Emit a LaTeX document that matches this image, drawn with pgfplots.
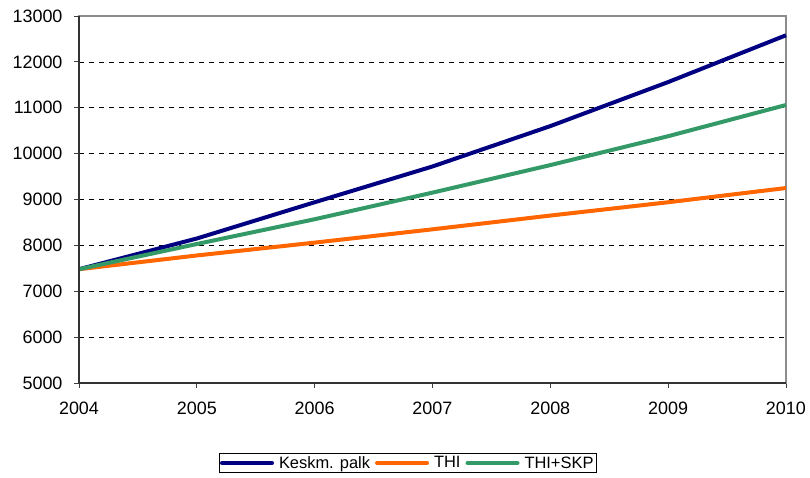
\documentclass[border=0pt]{standalone}
\usepackage{pgfplots}
\pgfplotsset{compat=1.18}
\usepackage{fontspec}
\setmainfont{Liberation Sans}

\definecolor{palk}{RGB}{0,0,128}
\definecolor{thi}{RGB}{255,102,0}
\definecolor{skp}{RGB}{51,153,102}

\begin{document}
\begin{tikzpicture}
\path[use as bounding box] (-79bp,-95bp) rectangle (731bp,383bp);
\begin{axis}[
  scale only axis,
  width=707bp, height=367bp,
  at={(0,0)}, anchor=south west,
  xmin=2004, xmax=2010, ymin=5000, ymax=13000,
  xtick={2004,...,2010}, ytick={5000,6000,...,13000},
  scaled ticks=false,
  xticklabel style={/pgf/number format/1000 sep={}},
  yticklabel style={/pgf/number format/1000 sep={}},
  /pgf/number format/assume math mode=true,
  tick label style={font=\fontsize{18}{21}\selectfont, text=black},
  xticklabel style={yshift=-10bp},
  yticklabel style={xshift=-8bp},
  tick align=outside,
  major tick length=5bp,
  xtick pos=bottom, ytick pos=left,
  tick style={black!75, line width=0.8bp},
  axis line style={draw=black!45, line width=1.6bp},
  ymajorgrids,
  major grid style={black, dash pattern=on 5bp off 5bp, line width=0.7bp},
  legend style={at={(0.465,-0.218)}, anchor=center, legend columns=3,
    draw=black, line width=0.6bp, font=\fontsize{16.5}{19}\selectfont,
    inner sep=1bp, column sep=3bp},
  legend image code/.code={\draw[#1, line width=4bp, line cap=round] (0bp,0bp) -- (50bp,0bp);},
  every axis plot/.append style={line width=4bp},
  clip=false,
]
\addplot[palk] coordinates {
  (2004,7480) (2005,8150) (2006,8940) (2007,9720) (2008,10600) (2009,11560) (2010,12580)};
\addplot[thi] coordinates {
  (2004,7480) (2005,7780) (2006,8060) (2007,8350) (2008,8650) (2009,8940) (2010,9250)};
\addplot[skp] coordinates {
  (2004,7480) (2005,8030) (2006,8570) (2007,9150) (2008,9750) (2009,10380) (2010,11060)};
\legend{Keskm. palk,THI,THI+SKP}
\draw[black!80, line width=1.4bp] (rel axis cs:0,1) -- (rel axis cs:0,0) -- (rel axis cs:1,0);
\end{axis}
\end{tikzpicture}
\end{document}
